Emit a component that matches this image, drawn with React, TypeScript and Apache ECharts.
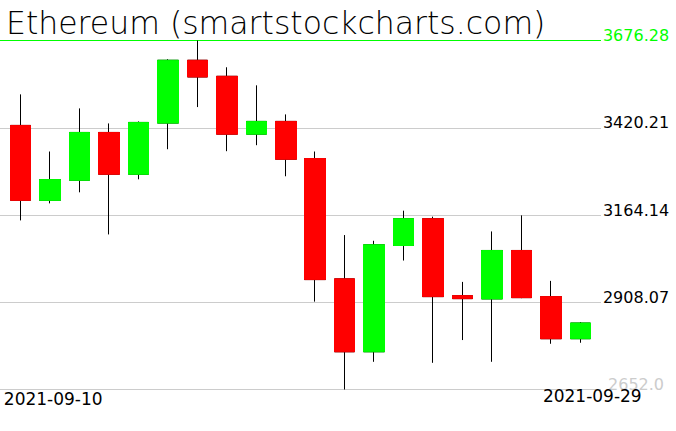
import React, { useEffect, useRef } from "react";
import * as echarts from "echarts";

const dates = [
  "2021-09-10", "2021-09-11", "2021-09-12", "2021-09-13", "2021-09-14",
  "2021-09-15", "2021-09-16", "2021-09-17", "2021-09-18", "2021-09-19",
  "2021-09-20", "2021-09-21", "2021-09-22", "2021-09-23", "2021-09-24",
  "2021-09-25", "2021-09-26", "2021-09-27", "2021-09-28", "2021-09-29",
];
const opens = [3427.0, 3207.1, 3266.0, 3406.4, 3283.7, 3433.8, 3618.3, 3571.2, 3401.4, 3438.8, 3329.9, 2976.7, 2762.7, 3074.7, 3153.3, 2927.5, 2917.8, 3060.0, 2924.6, 2801.0];
const closes = [3207.1, 3268.1, 3406.4, 3283.7, 3435.8, 3618.3, 3569.2, 3401.4, 3438.8, 3327.8, 2974.6, 2762.7, 3076.7, 3153.3, 2924.6, 2918.7, 3060.0, 2921.6, 2801.0, 2847.2];
const lows = [3148.3, 3198.3, 3230.7, 3107.1, 3268.9, 3357.2, 3480.9, 3351.4, 3369.0, 3277.8, 2909.9, 2652.0, 2733.3, 3030.5, 2730.3, 2797.1, 2733.3, 2920.0, 2786.2, 2789.2];
const highs = [3518.2, 3350.5, 3477.0, 3432.9, 3438.8, 3621.3, 3676.28, 3597.7, 3544.7, 3459.4, 3350.5, 3105.3, 3088.5, 3176.8, 3159.2, 2967.8, 3115.9, 3163.0, 2970.8, 2850.1];

const yTickLabels = ["2652.0", "2908.07", "3164.14", "3420.21", "3676.28"];
const yMin = 2652.0;
const yMax = 3676.28;
const yInterval = 256.07;

const FONT = "DejaVu Sans";

export default function App() {
  const ref = useRef<HTMLDivElement>(null);
  useEffect(() => {
    document.body.style.margin = "0";
    const chart = echarts.init(ref.current!, null, { renderer: "svg" });
    const full = dates.map((_, i) => [opens[i], closes[i], lows[i], highs[i]]);
    const bodies = dates.map((_, i) => [
      opens[i],
      closes[i],
      Math.min(opens[i], closes[i]),
      Math.max(opens[i], closes[i]),
    ]);
    const lastIdx = dates.length - 1;
    chart.setOption({
      animation: false,
      backgroundColor: "#ffffff",
      title: {
        text: "Ethereum (smartstockcharts.com)",
        left: 1,
        top: 2,
        textStyle: {
          fontFamily: FONT,
          fontSize: 31.5,
          fontWeight: 200,
          color: "#000000",
        },
        z: 10,
      },
      grid: [
        { left: 0, width: 601, top: 40.5, height: 349, containLabel: false, outerBoundsMode: "none" },
        { left: 6, width: 589, top: 40.5, height: 349, containLabel: false, outerBoundsMode: "none" },
      ],
      xAxis: [
        {
          type: "category",
          gridIndex: 0,
          data: dates,
          show: false,
        },
        {
          type: "category",
          gridIndex: 1,
          data: dates,
          boundaryGap: true,
          axisLine: { show: false },
          axisTick: { show: false },
          splitLine: { show: false },
          z: 5,
          axisLabel: {
            interval: (i: number) => i === 0 || i === lastIdx,
            margin: -2,
            fontFamily: FONT,
            fontSize: 17,
            lineHeight: 17,
            color: "#000000",
            formatter: (v: string, i: number) =>
              i === 0 ? `{a|${v}}` : `{b|${v}}`,
            rich: {
              a: {
                fontFamily: FONT,
                fontSize: 17,
                color: "#000000",
                padding: [6, 0, 0, 65],
              },
              b: {
                fontFamily: FONT,
                fontSize: 17,
                color: "#000000",
                padding: [0, 0, 0, 24],
              },
            },
          },
        },
      ],
      yAxis: [
        {
          type: "value",
          gridIndex: 0,
          position: "right",
          min: yMin,
          max: yMax,
          interval: yInterval,
          axisLine: { show: false },
          axisTick: { show: false },
          splitLine: {
            show: true,
            lineStyle: {
              color: ["#cccccc", "#cccccc", "#cccccc", "#cccccc", "#00ff00"],
              width: 1,
            },
          },
          axisLabel: {
            margin: 35,
            align: "center",
            verticalAlign: "bottom",
            fontFamily: FONT,
            fontSize: 16,
            lineHeight: 10,
            formatter: (v: number) =>
              yTickLabels[Math.round((v - yMin) / yInterval)] ?? "",
            color: (v: number) => {
              const k = Math.round((v - yMin) / yInterval);
              if (k === yTickLabels.length - 1) return "#00ff00";
              if (k === 0) return "#cccccc";
              return "#000000";
            },
          },
        },
        {
          type: "value",
          gridIndex: 1,
          min: yMin,
          max: yMax,
          interval: yInterval,
          show: false,
          splitLine: { show: false },
        },
      ],
      series: [
        {
          type: "candlestick",
          xAxisIndex: 1,
          yAxisIndex: 1,
          barWidth: 21,
          data: full,
          itemStyle: {
            color: "#00ff00",
            color0: "#ff0000",
            borderColor: "#000000",
            borderColor0: "#000000",
            borderWidth: 1,
          },
          z: 2,
        },
        {
          type: "candlestick",
          xAxisIndex: 1,
          yAxisIndex: 1,
          barWidth: 21,
          data: bodies,
          itemStyle: {
            color: "#00ff00",
            color0: "#ff0000",
            borderColor: "#00ff00",
            borderColor0: "#ff0000",
            borderWidth: 1,
          },
          z: 3,
        },
      ],
    });
    return () => chart.dispose();
  }, []);
  return (
    <div
      ref={ref}
      style={{ position: "fixed", left: 0, top: 0, width: 676, height: 431 }}
    />
  );
}
